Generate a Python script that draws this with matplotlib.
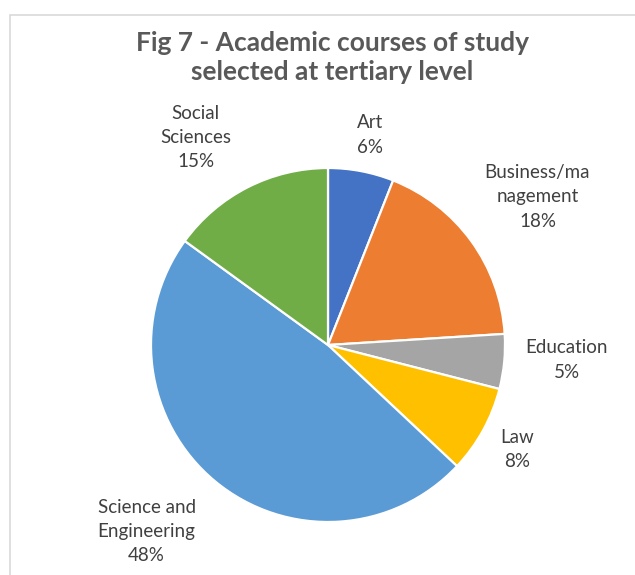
import matplotlib
matplotlib.use("Agg")
import matplotlib.pyplot as plt
from matplotlib.patches import Rectangle
import numpy as np

categories = ["Art", "Business/ma\nnagement", "Education", "Law", "Science and\nEngineering", "Social\nSciences"]
values = [6, 18, 5, 8, 48, 15]
colors = ["#4472C4", "#ED7D31", "#A5A5A5", "#FFC000", "#5B9BD5", "#70AD47"]
title = "Fig 7 - Academic courses of study\nselected at tertiary level"

W, H = 635, 575
cx, cy, R = 328, 345, 177

fig = plt.figure(figsize=(W / 100, H / 100), dpi=100)
fig.patch.set_facecolor("white")
ax = fig.add_axes([0, 0, 1, 1])

wedges, _ = ax.pie(values, colors=colors, startangle=90, counterclock=False,
                   radius=1.0, wedgeprops=dict(edgecolor="white", linewidth=1.6))
ax.set_aspect("auto")
ax.set_xlim(-cx / R, (W - cx) / R)
ax.set_ylim(-(H - cy) / R, cy / R)
ax.axis("off")

# label placement (radius factor, angle tweak in degrees from the wedge mid angle)
label_r = [1.21, 1.45, 1.35, 1.22, 1.47, 1.39]
label_dang = [0.5, 0.7, -1.8, 0.2, 4.6, -5.5]
total = sum(values)
cum = 0
for i, (lab, v) in enumerate(zip(categories, values)):
    mid = (cum + v / 2) / total * 360 + label_dang[i]
    cum += v
    th = np.deg2rad(mid)
    x = label_r[i] * np.sin(th)
    y = label_r[i] * np.cos(th)
    pct = f"{v / total * 100:.0f}%"
    ax.text(x, y, f"{lab}\n{pct}", ha="center", va="center", fontsize=13.5,
            color="#404040", family="Lato", linespacing=1.53)

fig.text(332.5 / W, 1 - 57.5 / H, title, ha="center", va="center", fontsize=19,
         fontweight="bold", color="#595959", family="Lato", linespacing=1.25)

fig.patches.append(Rectangle((9.5 / W, -0.1), 2, (H - 14.5) / H + 0.1,
                             transform=fig.transFigure, fill=False,
                             edgecolor="#D9D9D9", linewidth=1.2))

fig.savefig("out.png", dpi=100)
